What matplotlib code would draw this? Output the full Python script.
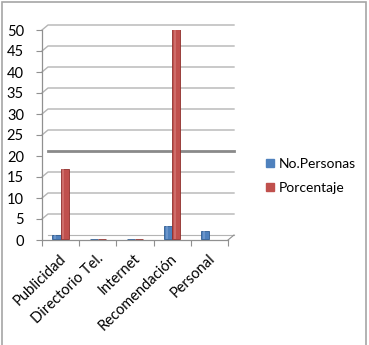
import numpy as np
import matplotlib
matplotlib.use("Agg")
import matplotlib.pyplot as plt
from matplotlib.patches import Rectangle
from matplotlib.transforms import ScaledTranslation

categories = ["Publicidad", "Directorio Tel.", "Internet", "Recomendación", "Personal"]
no_personas = [1, 0, 0, 3, 2]
porcentaje = [16.7, 0, 0, 50, np.nan]
series_names = ["No.Personas", "Porcentaje"]
yticks = [0, 5, 10, 15, 20, 25, 30, 35, 40, 45, 50]

BLUE = "#4F81BD"
RED = "#C0504D"
FONT = "Lato"

W, H = 369, 345
fig = plt.figure(figsize=(W / 100, H / 100), dpi=100)
plt.rcParams["font.family"] = [FONT, "DejaVu Sans"]

x0, x1, ytop, ybot = 42, 228, 30, 240
ax = fig.add_axes([x0 / W, (H - ybot) / H, (x1 - x0) / W, (ybot - ytop) / H])
n = len(categories)
ax.set_xlim(-0.5, n - 0.5)
ax.set_ylim(0, 50)
for s in ax.spines.values():
    s.set_visible(False)

px_x = (x1 - x0) / n
px_y = (ybot - ytop) / 50
ddx = 6 / px_x
ddy = 5 / px_y

grid_c = "#b4b4b4"
for v in yticks:
    if v == 0:
        continue
    if v == 20:
        ax.plot([-0.5 + ddx, n - 0.5 + ddx], [v + ddy, v + ddy], color="#8a8a8a",
                lw=2.0, clip_on=False, zorder=1)
    else:
        ax.plot([-0.5, -0.5 + ddx, n - 0.5 + ddx], [v, v + ddy, v + ddy], color=grid_c,
                lw=1.0, clip_on=False, zorder=1)
ax.plot([-0.5 + ddx, n - 0.5 + ddx], [ddy, ddy], color=grid_c, lw=0.8, clip_on=False, zorder=1)
ax.plot([n - 0.5, n - 0.5 + ddx], [0, ddy], color="#909090", lw=0.8, clip_on=False, zorder=1)
ax.plot([-0.5, n - 0.5], [0, 0], color="#909090", lw=0.9, clip_on=False, zorder=4)
ax.plot([-0.5, -0.5], [0, 50], color="#909090", lw=0.9, clip_on=False, zorder=4)

xs = np.arange(n)
w = 0.22
ax.bar(xs - w / 2, no_personas, bottom=0.25, width=w, color=BLUE,
       edgecolor="#2f5b8f", lw=0.6, zorder=5)
ax.bar(xs + w / 2, porcentaje, bottom=0.25, width=w, color=RED,
       edgecolor="#8e2f2c", lw=0.6, zorder=5)
ax.bar(xs - w / 2 - w * 0.18, no_personas, bottom=0.25, width=w * 0.25, color="#7ea3d4",
       lw=0, zorder=6, alpha=0.6)
ax.bar(xs + w / 2 - w * 0.18, porcentaje, bottom=0.25, width=w * 0.25, color="#d9827f",
       lw=0, zorder=6, alpha=0.6)

ax.set_yticks(yticks)
ax.tick_params(axis="y", length=4, width=0.8, color="#909090", pad=9, labelsize=10.5,
               labelcolor="#000000")
ax.set_xticks(xs)
ax.set_xticklabels(categories, rotation=44, ha="right", va="center",
                   rotation_mode="anchor", fontsize=10.5)
ax.tick_params(axis="x", length=0, pad=12)
ax.set_xticks(np.arange(n + 1) - 0.5, minor=True)
ax.tick_params(axis="x", which="minor", length=4, width=0.8, color="#909090")
off = ScaledTranslation(3 / 100, 0, fig.dpi_scale_trans)
for lab in ax.get_xticklabels():
    lab.set_transform(lab.get_transform() + off)

h1 = Rectangle((0, 0), 1, 1, color=BLUE)
h2 = Rectangle((0, 0), 1, 1, color=RED)
fig.legend([h1, h2], series_names, loc="upper left", bbox_to_anchor=(259 / W, 1 - 151 / H),
           frameon=False, fontsize=10, handlelength=0.55, handleheight=0.55,
           handletextpad=0.4, labelspacing=0.85, borderpad=0)

fig.patches.append(Rectangle((2 / W, -0.05), 364 / W, 1.05 - 2 / H, transform=fig.transFigure,
                             fill=False, edgecolor="#a6a6a6", lw=1.2))

fig.savefig("out.png", dpi=100)
